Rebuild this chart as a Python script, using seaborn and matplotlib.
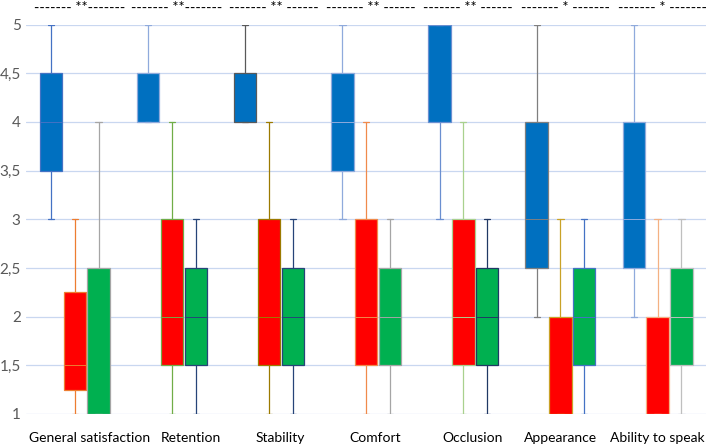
import matplotlib
matplotlib.use("Agg")
import matplotlib.pyplot as plt
import seaborn as sns

# ======================================
# DATA (five-number summaries per group)
# ======================================

categories = [
    "General satisfaction",
    "Retention",
    "Stability",
    "Comfort",
    "Occlusion",
    "Appearance",
    "Ability to speak"
]

significance = [
    "------- **-------",
    "------- **-------",
    "------- ** ------",
    "------- ** ------",
    "------- ** ------",
    "------- * -------",
    "------- * -------"
]

# blue series
blue_lo = [3, 4, 4, 3, 3, 2, 2]
blue_q1 = [3.5, 4, 4, 3.5, 4, 2.5, 2.5]
blue_med = [4, 4, 4, 4, 5, 3, 3]
blue_q3 = [4.5, 4.5, 4.5, 4.5, 5, 4, 4]
blue_hi = [5, 5, 5, 5, 5, 5, 5]

# red series
red_lo = [1, 1, 1, 1, 1, 1, 1]
red_q1 = [1.25, 1.5, 1.5, 1.5, 1.5, 1, 1]
red_med = [1.5, 2, 2, 2, 2, 1, 1]
red_q3 = [2.25, 3, 3, 3, 3, 2, 2]
red_hi = [3, 4, 4, 4, 4, 3, 3]

# green series
green_lo = [1, 1, 1, 1, 1, 1, 1]
green_q1 = [1, 1.5, 1.5, 1.5, 1.5, 1.5, 1.5]
green_med = [1, 2, 2, 2, 2, 2, 2]
green_q3 = [2.5, 2.5, 2.5, 2.5, 2.5, 2.5, 2.5]
green_hi = [4, 3, 3, 3, 3, 3, 3]

y_ticks = [1, 1.5, 2, 2.5, 3, 3.5, 4, 4.5, 5]
y_labels = ["1", "1,5", "2", "2,5", "3", "3,5", "4", "4,5", "5"]

# ======================================
# STYLE
# ======================================

fills = ["#0070C0", "#FF0000", "#00B050"]

edge_colors = [
    ["#4472C4", "#8FAADC", "#595959", "#8FAADC", "#6A8FD0", "#7F7F7F", "#8FAADC"],
    ["#ED7D31", "#70AD47", "#9C7A00", "#F08A4B", "#A9D18E", "#C9A227", "#F4B183"],
    ["#A5A5A5", "#264478", "#264478", "#A5A5A5", "#203864", "#4472C4", "#BFBFBF"]
]

sns.set_theme(style="white")
plt.rcParams["font.family"] = ["Lato", "DejaVu Sans"]

fig, ax = plt.subplots(figsize=(7.09, 4.47), dpi=100)
fig.subplots_adjust(left=0.037, right=0.996, bottom=0.074, top=0.945)

# ======================================
# BOXES
# ======================================

series = [
    (blue_lo, blue_q1, blue_med, blue_q3, blue_hi),
    (red_lo, red_q1, red_med, red_q3, red_hi),
    (green_lo, green_q1, green_med, green_q3, green_hi)
]

offsets = [-0.245, 0, 0.245]

for s, (lo, q1, med, q3, hi) in enumerate(series):
    for i in range(len(categories)):
        stats = [{
            "whislo": lo[i],
            "q1": q1[i],
            "med": med[i],
            "q3": q3[i],
            "whishi": hi[i],
            "fliers": []
        }]
        ec = edge_colors[s][i]
        ax.bxp(
            stats,
            positions=[i + offsets[s]],
            widths=0.23,
            capwidths=0.065,
            patch_artist=True,
            manage_ticks=False,
            showfliers=False,
            boxprops=dict(facecolor=fills[s], edgecolor=ec, linewidth=0.9),
            medianprops=dict(color=ec, linewidth=0.7),
            whiskerprops=dict(color=ec, linewidth=0.9),
            capprops=dict(color=ec, linewidth=0.9),
            zorder=3
        )

# ======================================
# AXES
# ======================================

ax.set_ylim(1, 5)
ax.set_xlim(-0.5, len(categories) - 0.5)

ax.set_yticks(y_ticks)
ax.set_yticklabels(y_labels, fontsize=11, color="#595959")

label_shift = [0.15, 0.19, 0.12, 0.09, 0.1, 0.0, 0.0]
ax.set_xticks([i + label_shift[i] for i in range(len(categories))])
ax.set_xticklabels(categories, fontsize=10, color="#000000")

ax.tick_params(axis="x", length=0, pad=13)
ax.tick_params(axis="y", length=0, pad=4)

ax.grid(axis="y", color="#C9D7F0", linewidth=0.9, zorder=0)
ax.set_axisbelow(True)

for spine in ax.spines.values():
    spine.set_visible(False)

for i, txt in enumerate(significance):
    ax.text(
        i + 0.05,
        1.043,
        txt,
        transform=ax.get_xaxis_transform(),
        ha="center",
        va="center",
        fontsize=10.5,
        color="#000000"
    )

plt.savefig("out.png", dpi=100)
